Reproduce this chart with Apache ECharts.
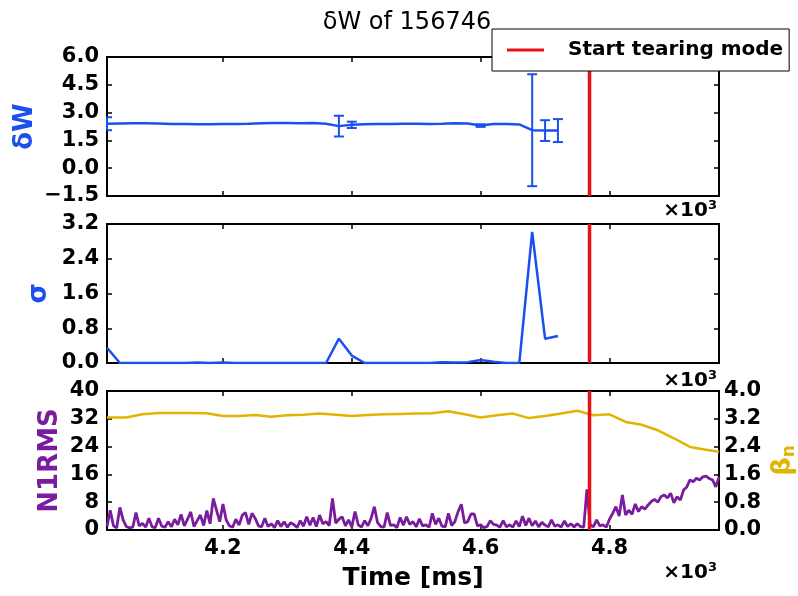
<!DOCTYPE html>
<html>
<head>
<meta charset="utf-8">
<script src="https://cdn.jsdelivr.net/npm/echarts@6/dist/echarts.min.js"></script>
<style>
  html, body { margin: 0; padding: 0; background: #fff; }
  #chart { width: 798px; height: 596px; }
</style>
</head>
<body>
<div id="chart"></div>
<script>
// ---- data ----------------------------------------------------------------
const shotNumber = '156746';
const timeTicks = [4200, 4400, 4600, 4800];          // ms
const tearStart = 4769;                               // ms, onset of tearing mode

// stability fit samples
const fitTime = [4020, 4040, 4060, 4080, 4100, 4120, 4140, 4160, 4180, 4200,
                 4220, 4240, 4260, 4280, 4300, 4320, 4340, 4360, 4380, 4400,
                 4420, 4440, 4460, 4480, 4500, 4520, 4540, 4560, 4580, 4600,
                 4620, 4640, 4660, 4680, 4700, 4720];
const deltaW  = [2.40, 2.41, 2.42, 2.42, 2.41, 2.39, 2.38, 2.37, 2.37, 2.38,
                 2.39, 2.40, 2.42, 2.44, 2.44, 2.43, 2.44, 2.40, 2.27, 2.34,
                 2.37, 2.38, 2.39, 2.40, 2.40, 2.39, 2.40, 2.42, 2.41, 2.30,
                 2.38, 2.39, 2.36, 2.05, 2.03, 2.03];
const sigma   = [0.35, 0.00, 0.00, 0.00, 0.00, 0.00, 0.00, 0.01, 0.00, 0.01,
                 0.00, 0.00, 0.00, 0.00, 0.00, 0.00, 0.00, 0.00, 0.56, 0.17,
                 0.00, 0.00, 0.00, 0.00, 0.00, 0.00, 0.02, 0.01, 0.02, 0.07,
                 0.03, 0.00, 0.00, 3.02, 0.56, 0.62];

// n=1 RMS amplitude, sampled every 5 ms from 4020 ms
const n1Start = 4020;
const n1Step = 5;
const n1rms = [
  1.0, 5.7, 1.2, 0.6, 6.5, 2.9, 1.0, 0.6, 0.8, 5.0,
  1.2, 1.9, 0.8, 3.4, 0.9, 0.7, 3.4, 1.1, 0.8, 2.4,
  0.9, 3.1, 1.5, 4.5, 1.2, 3.1, 5.2, 1.0, 2.7, 4.3,
  1.3, 5.6, 1.8, 9.1, 5.7, 2.4, 7.5, 2.9, 1.2, 0.8,
  3.1, 1.4, 4.3, 5.0, 1.6, 4.8, 3.4, 1.2, 0.9, 3.4,
  1.0, 1.8, 0.7, 2.7, 1.0, 2.4, 0.8, 2.1, 1.6, 0.7,
  2.7, 1.1, 3.8, 1.4, 3.6, 1.0, 4.3, 1.8, 2.4, 1.3,
  9.1, 2.0, 3.1, 3.8, 1.2, 2.9, 0.9, 5.3, 1.5, 0.8,
  2.7, 1.2, 3.4, 6.7, 2.1, 1.0, 0.8, 5.0, 1.3, 1.5,
  0.7, 3.6, 1.4, 3.8, 1.6, 2.4, 0.9, 3.2, 1.2, 1.5,
  0.8, 4.8, 1.6, 3.4, 1.1, 0.9, 4.8, 1.3, 2.4, 5.3,
  7.4, 2.0, 2.4, 4.6, 4.6, 1.2, 1.5, 0.7, 1.0, 2.7,
  1.6, 1.4, 0.8, 2.7, 0.9, 1.5, 0.8, 2.6, 1.0, 4.0,
  1.3, 3.4, 1.2, 2.6, 0.9, 2.2, 1.4, 0.9, 2.9, 1.1,
  1.5, 0.8, 2.6, 1.0, 1.8, 0.9, 1.8, 1.0, 0.8, 11.7,
  1.5, 0.9, 2.9, 1.2, 1.5, 0.8, 3.1, 4.8, 6.7, 4.0,
  10.1, 4.3, 5.7, 4.5, 7.5, 5.3, 6.7, 6.0, 7.2, 8.2,
  8.8, 8.0, 9.6, 10.1, 9.2, 10.6, 7.8, 9.6, 8.6, 11.5,
  12.4, 14.4, 13.9, 14.9, 14.4, 15.3, 15.5, 14.8, 14.4, 12.4,
  15.3
];

// normalised beta
const betaTime = [4020, 4050, 4075, 4100, 4125, 4150, 4175, 4200, 4225, 4250,
                  4275, 4300, 4325, 4350, 4375, 4400, 4425, 4450, 4475, 4500,
                  4525, 4550, 4575, 4600, 4625, 4650, 4675, 4700, 4725, 4750,
                  4775, 4800, 4825, 4850, 4875, 4900, 4925, 4950, 4970];
const betaN    = [3.24, 3.24, 3.33, 3.37, 3.37, 3.37, 3.36, 3.28, 3.28, 3.31,
                  3.26, 3.30, 3.32, 3.35, 3.32, 3.28, 3.31, 3.33, 3.34, 3.35,
                  3.36, 3.42, 3.33, 3.24, 3.30, 3.35, 3.22, 3.28, 3.35, 3.43,
                  3.30, 3.33, 3.11, 3.03, 2.87, 2.64, 2.39, 2.31, 2.25];

// ---- styling ---------------------------------------------------------------
const FONT = 'DejaVu Sans';
const BLUE = '#1a50ee';
const PURPLE = '#7a1c9e';
const GOLD = '#e0b400';
const RED = '#e8101a';
const X_MIN = 4020, X_MAX = 4970;

const grids = [
  { left: 107, top: 57,  width: 612, height: 139 },
  { left: 107, top: 224, width: 612, height: 139 },
  { left: 107, top: 391, width: 612, height: 139 }
].map(g => Object.assign(g, {
  show: true, borderColor: '#000', borderWidth: 2, backgroundColor: 'transparent',
  containLabel: false, outerBoundsMode: 'none'
}));

const tickLabel = { fontFamily: FONT, fontWeight: 'bold', fontSize: 21, color: '#000' };
const tickStyle = { inside: true, length: 5, lineStyle: { color: '#000', width: 1.5 } };
const fmt1 = v => v.toFixed(1).replace('-', '\u2212');

function xAxesFor(gi, withLabels) {
  return [
    {
      type: 'value', gridIndex: gi, position: 'bottom', min: X_MIN, max: X_MAX,
      axisLine: { show: false, onZero: false }, splitLine: { show: false },
      axisTick: Object.assign({ customValues: timeTicks }, tickStyle),
      axisLabel: withLabels
        ? Object.assign({ customValues: timeTicks, margin: 8, formatter: v => (v / 1000).toFixed(1) }, tickLabel)
        : { show: false },
      name: withLabels ? 'Time [ms]' : '',
      nameLocation: 'middle', nameGap: 36,
      nameTextStyle: { fontFamily: FONT, fontWeight: 'bold', fontSize: 25, color: '#000' }
    },
    {
      type: 'value', gridIndex: gi, position: 'top', min: X_MIN, max: X_MAX,
      axisLine: { show: false, onZero: false }, splitLine: { show: false },
      axisTick: Object.assign({ customValues: timeTicks }, tickStyle),
      axisLabel: { show: false }
    }
  ];
}

function yAxis(gi, pos, min, max, interval, labels, formatter, name, nameColor, nameGap, nameExtra) {
  return Object.assign({
    type: 'value', gridIndex: gi, position: pos, min, max, interval,
    axisLine: { show: false, onZero: false }, splitLine: { show: false },
    axisTick: tickStyle,
    axisLabel: labels ? Object.assign({ margin: pos === 'left' ? 8 : 5, formatter }, tickLabel) : { show: false },
    name: name || '', nameLocation: 'middle', nameRotate: 90, nameGap: nameGap || 0,
    nameMoveOverlap: false,
    nameTextStyle: { fontFamily: FONT, fontWeight: 'bold', fontSize: 26, color: nameColor || '#000' }
  }, nameExtra || {});
}

const xAxes = [].concat(xAxesFor(0, false), xAxesFor(1, false), xAxesFor(2, true));
const yAxes = [
  yAxis(0, 'left', -1.5, 6, 1.5, true, fmt1, '\u03b4W', BLUE, 69),
  yAxis(0, 'right', -1.5, 6, 1.5, false),
  yAxis(1, 'left', 0, 3.2, 0.8, true, fmt1, '\u03c3', BLUE, 55),
  yAxis(1, 'right', 0, 3.2, 0.8, false),
  yAxis(2, 'left', 0, 40, 8, true, v => String(Math.round(v)), 'N1RMS', PURPLE, 44),
  yAxis(2, 'right', 0, 4, 0.8, true, fmt1, '{b|\u03b2}{s|n}', GOLD, 50, {
    nameTextStyle: {
      fontFamily: FONT, fontWeight: 'bold', fontSize: 26, color: GOLD,
      rich: {
        b: { fontFamily: FONT, fontWeight: 'bold', fontSize: 26, color: GOLD },
        s: { fontFamily: FONT, fontWeight: 'bold', fontSize: 17, color: GOLD, padding: [12, 0, 0, 0] }
      }
    }
  })
];

// error bars for the delta-W fit (vertical bar with end caps, kept inside the plot)
function renderErrorBar(params, api) {
  const box = params.coordSys;
  const x = api.value(0);
  const lo = api.coord([x, api.value(1)]);
  const hi = api.coord([x, api.value(2)]);
  const cap = 5;
  const left = Math.max(box.x, lo[0] - cap);
  const right = Math.min(box.x + box.width, lo[0] + cap);
  const style = { stroke: BLUE, lineWidth: 2, fill: null };
  const children = [
    { type: 'line', shape: { x1: lo[0], y1: lo[1], x2: hi[0], y2: hi[1] }, style }
  ];
  if (Math.abs(lo[1] - hi[1]) > 1.5) {
    children.push(
      { type: 'line', shape: { x1: left, y1: lo[1], x2: right, y2: lo[1] }, style },
      { type: 'line', shape: { x1: left, y1: hi[1], x2: right, y2: hi[1] }, style }
    );
  }
  return { type: 'group', children };
}

function tearLine(xi, yi, yMin, yMax) {
  return {
    name: 'Start tearing mode', type: 'line', xAxisIndex: xi, yAxisIndex: yi,
    data: [[tearStart, yMin], [tearStart, yMax]],
    symbol: 'none', silent: true, z: 10,
    lineStyle: { color: RED, width: 3.5 }, itemStyle: { color: RED }
  };
}

const series = [
  {
    name: '\u03b4W', type: 'line', xAxisIndex: 0, yAxisIndex: 0,
    data: fitTime.map((t, i) => [t, deltaW[i]]),
    symbol: 'none', lineStyle: { color: BLUE, width: 2.5 }, itemStyle: { color: BLUE }
  },
  {
    name: '\u03b4W error', type: 'custom', xAxisIndex: 0, yAxisIndex: 0,
    data: fitTime.map((t, i) => [t, deltaW[i] - sigma[i], deltaW[i] + sigma[i]]),
    encode: { x: 0, y: [1, 2] },
    renderItem: renderErrorBar
  },
  tearLine(0, 0, -1.5, 6),
  {
    name: '\u03c3', type: 'line', xAxisIndex: 2, yAxisIndex: 2,
    data: fitTime.map((t, i) => [t, sigma[i]]),
    symbol: 'none', lineStyle: { color: BLUE, width: 2.5 }, itemStyle: { color: BLUE }
  },
  tearLine(2, 2, 0, 3.2),
  {
    name: 'N1RMS', type: 'line', xAxisIndex: 4, yAxisIndex: 4,
    data: n1rms.map((v, i) => [n1Start + i * n1Step, v]),
    symbol: 'none', lineStyle: { color: PURPLE, width: 2.8 }, itemStyle: { color: PURPLE }
  },
  {
    name: '\u03b2n', type: 'line', xAxisIndex: 4, yAxisIndex: 5,
    data: betaTime.map((t, i) => [t, betaN[i]]),
    symbol: 'none', lineStyle: { color: GOLD, width: 2.5 }, itemStyle: { color: GOLD }
  },
  tearLine(4, 4, 0, 40)
];

// offset ("x10^3") notes at the right end of each time axis
const offsetNote = (y) => ({
  type: 'text', right: 81, top: y,
  style: {
    text: '\u00d710{s|3}', fill: '#000',
    font: 'bold 20px "' + FONT + '"',
    rich: { s: { fontFamily: FONT, fontWeight: 'bold', fontSize: 13, padding: [0, 0, 10, 0] } }
  }
});

const chart = echarts.init(document.getElementById('chart'), null, { renderer: 'canvas' });
chart.setOption({
  animation: false,
  backgroundColor: '#fff',
  title: {
    text: '\u03b4W of ' + shotNumber, left: 402, textAlign: 'center', top: 6,
    textStyle: { fontFamily: FONT, fontWeight: 'normal', fontSize: 24, color: '#000' }
  },
  legend: {
    data: ['Start tearing mode'], left: 492, top: 29,
    padding: [11, 6, 11, 15], itemWidth: 37, itemHeight: 3, icon: 'rect',
    backgroundColor: '#fff', borderColor: '#000', borderWidth: 1, borderRadius: 0,
    selectedMode: false, z: 20,
    textStyle: { fontFamily: FONT, fontWeight: 'bold', fontSize: 20, color: '#000', padding: [0, 0, 0, 19] }
  },
  grid: grids,
  xAxis: xAxes,
  yAxis: yAxes,
  series: series,
  graphic: [offsetNote(199), offsetNote(369), offsetNote(561)]
});
</script>
</body>
</html>
